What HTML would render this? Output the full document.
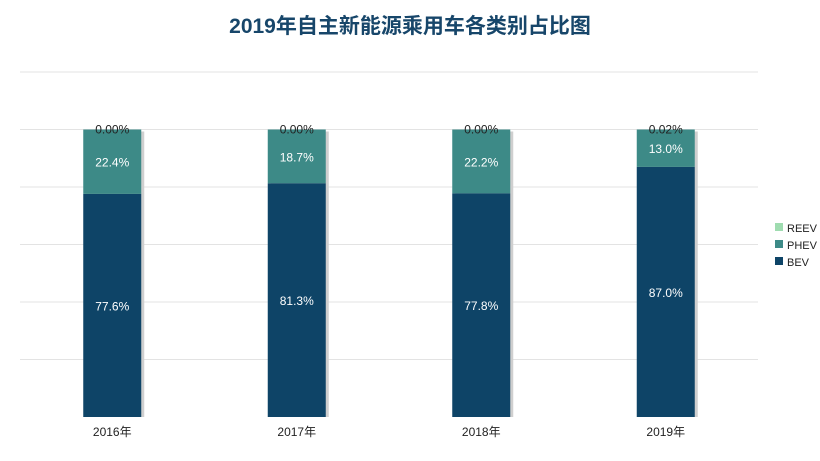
<!DOCTYPE html>
<html><head><meta charset="utf-8"><style>
body{margin:0;background:#fff;}
svg{display:block;font-family:"Liberation Sans","Noto Sans CJK SC",sans-serif;}
</style></head><body>
<svg id="chart" width="820" height="461" viewBox="0 0 820 461">
<text x="410" y="33" text-anchor="middle" font-size="21" font-weight="bold" fill="#17466a">2019年自主新能源乘用车各类别占比图</text>
<g id="grid"></g>
<g id="bars"></g>
<g id="xlabels"></g>
<g id="legend"></g>
</svg>
<script>
const categories=["2016年","2017年","2018年","2019年"];
const bev=[77.6,81.3,77.8,87.0];
const phev=[22.4,18.7,22.2,13.0];
const reev=[0.00,0.00,0.00,0.02];
const yTicks=[0,20,40,60,80,100,120];
const ns="http://www.w3.org/2000/svg";
const plotL=20,plotR=758,plotTop=72,plotBot=417,yMax=120;
const y=v=>plotBot-(v/yMax)*(plotBot-plotTop);
const band=(plotR-plotL)/categories.length;
const xc=i=>plotL+band*(i+0.5);
const bw=58;
function mk(t,a,p){const e=document.createElementNS(ns,t);for(const k in a)e.setAttribute(k,a[k]);p.appendChild(e);return e;}
const grid=document.getElementById('grid');
yTicks.forEach(t=>{if(t===0)return;const l=mk('line',{x1:plotL,x2:plotR,y1:y(t),y2:y(t),stroke:'#e3e3e3','stroke-width':1},grid);

});
const bars=document.getElementById('bars'),xl=document.getElementById('xlabels');
categories.forEach((c,i)=>{
 const x0=xc(i)-bw/2;
 const sh=mk('rect',{x:x0+3,y:y(bev[i]+phev[i])+2,width:bw,height:plotBot-y(bev[i]+phev[i])-2,fill:'#cfcfcf'},bars);
 
 
 const b=mk('rect',{x:x0,y:y(bev[i]),width:bw,height:plotBot-y(bev[i]),fill:'#0e4467'},bars);
 
 
 const p=mk('rect',{x:x0,y:y(bev[i]+phev[i]),width:bw,height:y(bev[i])-y(bev[i]+phev[i]),fill:'#3d8a87'},bars);
 
 
 const t1=mk('text',{x:xc(i),y:(y(0)+y(bev[i]))/2+5,'text-anchor':'middle','font-size':12,fill:'#fff'},bars);
 t1.textContent=bev[i].toFixed(1)+'%';
 
 
 const t2=mk('text',{x:xc(i),y:(y(bev[i])+y(bev[i]+phev[i]))/2+5,'text-anchor':'middle','font-size':12,fill:'#fff'},bars);
 t2.textContent=phev[i].toFixed(1)+'%';
 
 
 const t3=mk('text',{x:xc(i),y:y(bev[i]+phev[i]+reev[i])+4,'text-anchor':'middle','font-size':12,fill:'#222'},bars);
 t3.textContent=reev[i].toFixed(2)+'%';
 
 
 const xt=mk('text',{x:xc(i),y:436,'text-anchor':'middle','font-size':12,fill:'#222'},xl);
 xt.textContent=c;
 
 
});
const lg=document.getElementById('legend');
[["REEV","#9fdcb0"],["PHEV","#3d8a87"],["BEV","#0e4467"]].forEach((d,k)=>{
 const yy=228+k*17;
 const g=mk('g',{},lg);
 
 
 mk('rect',{x:775,y:yy-5,width:8,height:8,fill:d[1]},g);
 const t=mk('text',{x:787,y:yy+4,'font-size':11,fill:'#222'},g);t.textContent=d[0];
});
</script>
</body></html>
